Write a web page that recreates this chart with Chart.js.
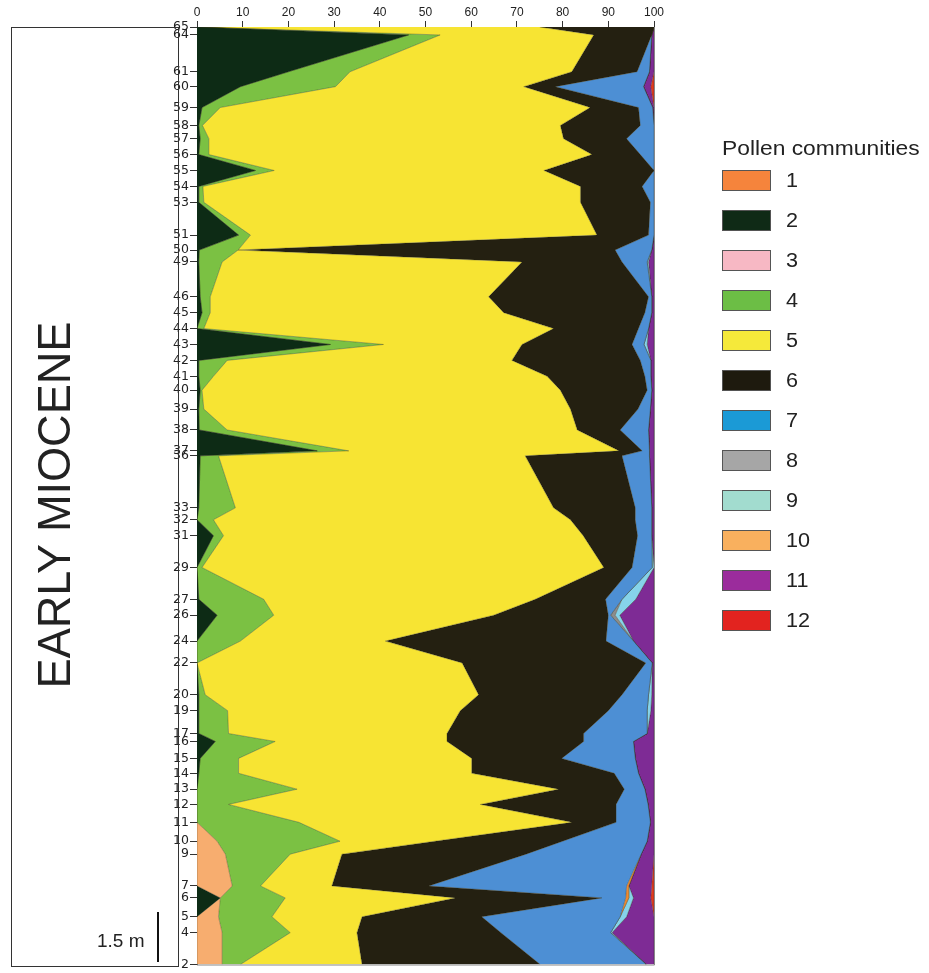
<!DOCTYPE html>
<html>
<head>
<meta charset="utf-8">
<script src="https://cdn.jsdelivr.net/npm/chart.js@4.4.1/dist/chart.umd.min.js"></script>
<style>
body { margin: 0; background: #fff; font-family: "Liberation Sans", Arial, sans-serif; }
#wrap { position: relative; width: 929px; height: 973px; overflow: hidden; }
#chart { position: absolute; left: 0; top: 0; }
#era { position: absolute; left: 11px; top: 27px; width: 168px; height: 940px; border: 1px solid #333; box-sizing: border-box; }
#eraText { position: absolute; left: 53px; top: 505px; font-size: 47px; line-height: 1; white-space: nowrap; color: #222;
  transform: translate(-50%, -50%) rotate(-90deg) scaleX(0.96); }
#scaleText { position: absolute; left: 97px; top: 930px; font-size: 19px; color: #222; white-space: nowrap; }
#scaleBar { position: absolute; left: 157px; top: 912px; width: 2px; height: 50px; background: #111; }
#legend { position: absolute; left: 722px; top: 137px; color: #222; }
#legend .title { font-size: 20px; white-space: nowrap; margin-bottom: 9px; transform: scaleX(1.14); transform-origin: left center; }
#legend .item { height: 40px; display: flex; align-items: flex-start; }
#legend .sw { width: 49px; height: 21px; border: 1px solid #555; box-sizing: border-box; margin-top: 1px; }
#legend .lab { font-size: 20px; margin-left: 15px; line-height: 22px; transform: scaleX(1.08); transform-origin: left center; }
</style>
</head>
<body>
<div id="wrap">
  <canvas id="chart" width="929" height="973"></canvas>
  <div id="era"></div>
  <div id="eraText">EARLY MIOCENE</div>
  <div id="scaleText">1.5 m</div>
  <div id="scaleBar"></div>
  <div id="legend"></div>
</div>
<script>
// samples from base (2) to top (65), height above base in m
var samples = [2,4,5,6,7,9,10,11,12,13,14,15,16,17,19,20,22,24,26,27,29,31,32,33,36,37,38,39,40,41,42,43,44,45,46,49,50,51,53,54,55,56,57,58,59,60,61,64,65]
var heights = [0,0.96,1.44,2.01,2.37,3.33,3.72,4.29,4.83,5.29,5.77,6.22,6.73,6.97,7.66,8.14,9.10,9.76,10.54,11.02,11.98,12.94,13.42,13.78,15.35,15.50,16.13,16.76,17.33,17.75,18.23,18.71,19.19,19.67,20.15,21.20,21.56,22.01,23.00,23.48,23.96,24.44,24.92,25.32,25.86,26.49,26.94,28.05,28.29]
var xTicks = [0,10,20,30,40,50,60,70,80,90,100]

// pollen community percentages
var c1  = [0,0,0,0.7,0.5,0,0,0,0,0,0,0,0,0,0,0,0,0,0,0,0,0,0,0,0,0,0,0,0,0,0,0,0,0,0,0,0,0,0,0,0,0,0,0,0,0,0,0,0]
var c2  = [0,0,0,5.1,0,0,0,0,0,0,0.4,0.7,4,0.4,0.4,0.4,0,0,4.4,0.4,0,3.6,0,0.4,0.7,26.3,0.5,0.4,0.7,0.4,0.4,29.2,0,1.1,0.7,0.4,0.5,9.1,0.4,0.4,12.8,0.4,0.7,0.4,1.1,9.5,20,46.3,0]
var c3  = [0,0,0,0,0,0,0,0,0,0,0,0,0,0,0,0,0,0,0,0,0,0,0,0,0,0,0,0,0,0,0,0,0,0,0,0,0,0,0,0,0,0,0,0,0,0,0,0,0]
var c4  = [4,14.9,11.7,14.2,6.2,14.2,26.9,22.3,6.9,21.9,8.7,8.4,13.1,6.5,6.3,1.4,0,9.5,12.4,14.2,1.1,2.2,3.6,8,4,6.9,6.1,1.1,0.4,3.2,6.2,11.6,1.5,1.8,2.2,5.1,8.5,2.6,1.1,0.9,4.1,2.2,1.9,0.8,4,20.8,13.5,6.9,0]
var c5  = [26.6,14.6,19.7,37.2,15.6,11.3,20.7,59.7,55.1,57.2,51,51,37.6,47.8,50.9,59.8,58,31.7,48.1,59.4,87.9,78.7,78.1,69.6,67.1,59.1,76.6,80.2,78.4,73,62.3,30.3,76.5,64.2,60.9,65.6,0,75.8,82.4,82.6,59,83.8,77.6,78.3,80.9,41.2,48.5,33.6,75]
var c6  = [39,31.5,26.2,32.1,21.2,40.3,28,9.7,29.7,14.4,31.2,19.7,29.9,29.9,32.4,31.4,40.2,48.3,25.1,15.4,6.2,11.9,14.2,17.9,21.2,5.1,9.4,14.8,19,21.4,28.1,24.1,18.6,30.9,35,21.9,82.5,11.3,15.3,13.5,24.1,10.6,13.8,17.5,10.6,6.9,14.3,12.7,25]
var c7  = [23.2,24,30.3,5.2,43.3,25.2,18.5,7.5,7,4.5,5.3,16.1,10.9,13.9,8.5,5.8,1.4,6,0.5,3.6,4.4,3.1,3.6,3.6,6,1.6,6.2,2.7,1,1.3,2.3,2.6,2.2,1.5,0.7,5.5,8,1.2,0.8,2.6,0,3,6,3,3.1,19.3,2.7,0,0]
var c8  = [0,0,0,0,0,0,0,0,0,0,0,0,0,0,0,0,0,0,1,0,0,0,0,0,0,0,0,0,0,0,0,0,0,0,0,0,0,0,0,0,0,0,0,0,0,0,0,0,0]
var c9  = [0,0.3,1.4,1,0,0,0,0,0,0,0,0,0,0,0.8,0.7,0,0,1,3,0.4,0,0,0,0,0,0,0,0,0,0,0.7,0,0,0,0.3,0,0,0,0,0,0,0,0,0,0,0,0,0]
var c10 = [5.5,5.5,4.7,0,7.7,6.2,4.4,0,0,0,0,0,0,0,0,0,0,0,0,0,0,0,0,0,0,0,0,0,0,0,0,0,0,0,0,0,0,0,0,0,0,0,0,0,0,0,0,0,0]
var c11 = [1.7,9.2,6,3.8,5,2.8,1.5,0.8,1.3,2,3.4,4.1,4.5,1.5,0.7,0.5,0.4,4.5,7.5,4,0,0.5,0.5,0.5,1,1,1.2,0.8,0.5,0.7,0.7,1.5,1.2,0.5,0.5,1.2,0.5,0,0,0,0,0,0,0,0.3,1.6,1,0.5,0]
var c12 = [0,0,0,0.7,0.5,0,0,0,0,0,0,0,0,0,0,0,0,0,0,0,0,0,0,0,0,0,0,0,0,0,0,0,0,0,0,0,0,0,0,0,0,0,0,0,0,0.7,0,0,0]

var communities = ['1','2','3','4','5','6','7','8','9','10','11','12']
var seriesByName = {'1':c1,'2':c2,'3':c3,'4':c4,'5':c5,'6':c6,'7':c7,'8':c8,'9':c9,'10':c10,'11':c11,'12':c12}
// order of the areas from left to right
var stackOrder = ['2','10','4','5','6','7','1','8','9','3','11','12']

var fillColors = {'1':'#ee8a32','2':'#0d2b15','3':'#f4b6c2','4':'#7bc143','5':'#f7e433','6':'#242011',
	'7':'#4d8fd4','8':'#8c8c8c','9':'#86d3ea','10':'#f7ad6f','11':'#7e2b95','12':'#e23a1f'}
var legendColors = ['#f5843c','#0f2a16','#f7b8c4','#6cbe45','#f5e93a','#1e1a0e','#1b9ad6','#a6a6a6','#a2dccf','#f9b05e','#9b2c9c','#e2231f']

var datasets = stackOrder.map(function (name, k) {
	var vals = seriesByName[name]
	return {
		label: name,
		data: heights.map(function (h, i) { return {x: vals[i], y: h} }),
		backgroundColor: fillColors[name],
		borderColor: 'rgba(45,45,20,0.55)',
		borderWidth: 0.6,
		pointRadius: 0,
		tension: 0,
		fill: k === 0 ? 'origin' : '-1'
	}
})

var frame = {
	id: 'frame',
	afterDatasetsDraw: function (chart) {
		var a = chart.chartArea, ctx = chart.ctx
		ctx.save()
		ctx.strokeStyle = '#888'
		ctx.lineWidth = 1
		ctx.beginPath()
		ctx.moveTo(a.left, a.bottom + 0.5)
		ctx.lineTo(a.right + 0.5, a.bottom + 0.5)
		ctx.lineTo(a.right + 0.5, a.top)
		ctx.stroke()
		ctx.restore()
	}
}

var ctx = document.getElementById('chart').getContext('2d')
var myChart = new Chart(ctx, {
	type: 'line',
	data: { datasets: datasets },
	plugins: [frame],
	options: {
		responsive: false,
		animation: false,
		indexAxis: 'y',
		layout: { padding: { left: 152, right: 275, top: 0, bottom: 5 } },
		plugins: { legend: { display: false }, tooltip: { enabled: false } },
		scales: {
			x: {
				type: 'linear', position: 'top', min: 0, max: 100, stacked: true,
				afterBuildTicks: function (s) { s.ticks = xTicks.map(function (v) { return {value: v} }) },
				afterFit: function (s) { s.height = 27 },
				ticks: { color: '#222', font: { family: 'Liberation Sans', size: 12 }, padding: 1, maxRotation: 0 },
				grid: { drawOnChartArea: false, tickLength: 6, color: '#333', lineWidth: 1 },
				border: { color: '#333', width: 1 }
			},
			y: {
				type: 'linear', min: 0, max: 28.29,
				afterBuildTicks: function (s) { s.ticks = heights.map(function (v) { return {value: v} }) },
				afterFit: function (s) { s.width = 45 },
				ticks: {
					autoSkip: false, color: '#222', padding: 1,
					font: { family: 'DejaVu Sans', size: 12.5 },
					callback: function (v, i) { return String(samples[i]) }
				},
				grid: { drawOnChartArea: false, tickLength: 7, color: '#333', lineWidth: 1 },
				border: { color: '#333', width: 1 }
			}
		}
	}
})

var leg = document.getElementById('legend')
var html = '<div class="title">Pollen communities</div>'
communities.forEach(function (name, i) {
	html += '<div class="item"><div class="sw" style="background:' + legendColors[i] + '"></div><div class="lab">' + name + '</div></div>'
})
leg.innerHTML = html
</script>
</body>
</html>
